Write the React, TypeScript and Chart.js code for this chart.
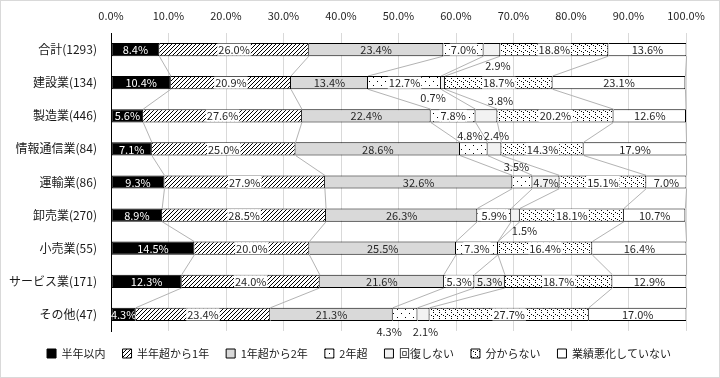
import React, { useEffect, useRef } from 'react';
import { Chart, registerables } from 'chart.js';

Chart.register(...registerables);

const categories = ['合計(1293)', '建設業(134)', '製造業(446)', '情報通信業(84)', '運輸業(86)', '卸売業(270)', '小売業(55)', 'サービス業(171)', 'その他(47)'];
const seriesNames = ['半年以内', '半年超から1年', '1年超から2年', '2年超', '回復しない', '分からない', '業績悪化していない'];
const within6m = [8.4, 10.4, 5.6, 7.1, 9.3, 8.9, 14.5, 12.3, 4.3];
const m6to1y = [26.0, 20.9, 27.6, 25.0, 27.9, 28.5, 20.0, 24.0, 23.4];
const y1to2 = [23.4, 13.4, 22.4, 28.6, 32.6, 26.3, 25.5, 21.6, 21.3];
const over2y = [7.0, 12.7, 7.8, 4.8, 3.5, 5.9, 7.3, 5.3, 4.3];
const noRecovery = [2.9, 0.7, 3.8, 2.4, 4.7, 1.5, 0.0, 5.3, 2.1];
const unknown = [18.8, 18.7, 20.2, 14.3, 15.1, 18.1, 16.4, 18.7, 27.7];
const notWorsened = [13.6, 23.1, 12.6, 17.9, 7.0, 10.7, 16.4, 12.9, 17.0];
const xTickValues = [0, 10, 20, 30, 40, 50, 60, 70, 80, 90, 100];

// label nudges (dataset-index) for small segments whose labels sit outside the bar
const labelNudges: Record<string, [number, number]> = {
  '4-0': [6, 16],
  '4-1': [-10, 15],
  '4-2': [14, -15],
  '3-3': [-4, -14],
  '4-3': [2, -14],
  '3-4': [-6, -16],
  '4-5': [9, 15],
  '3-8': [-16, 17],
  '4-8': [2, 17],
};
const boxedLabelSeries = [1, 3, 5];

const FONT = '"Noto Sans CJK JP", "Noto Sans", sans-serif';

function makePattern(w: number, h: number, draw: (c: CanvasRenderingContext2D) => void) {
  const cv = document.createElement('canvas');
  cv.width = w;
  cv.height = h;
  const c = cv.getContext('2d')!;
  c.fillStyle = '#ffffff';
  c.fillRect(0, 0, w, h);
  c.fillStyle = '#000000';
  draw(c);
  return c.createPattern(cv, 'repeat')!;
}

export default function App() {
  const ref = useRef<HTMLCanvasElement>(null);

  useEffect(() => {
    const canvas = ref.current!;
    const ctx = canvas.getContext('2d')!;

    const hatch = makePattern(4, 4, (c) => {
      for (let k = 0; k < 4; k++) c.fillRect(k, 3 - k, 1, 1);
    });
    const sparseDots = makePattern(8, 8, (c) => {
      c.fillRect(1, 1, 1, 1);
      c.fillRect(5, 5, 1, 1);
    });
    const dots = makePattern(6, 6, (c) => {
      c.fillRect(1, 0, 1, 1);
      c.fillRect(3, 2, 1, 1);
      c.fillRect(1, 4, 1, 1);
      c.fillRect(5, 3, 1, 1);
    });

    const values = [within6m, m6to1y, y1to2, over2y, noRecovery, unknown, notWorsened];
    const fills: any[] = ['#000000', hatch, '#d9d9d9', sparseDots, '#f2f2f2', dots, '#ffffff'];

    const datasets = values.map((data, i) => ({
      label: seriesNames[i],
      data,
      backgroundColor: fills[i],
      borderColor: '#000000',
      borderWidth: 1,
      borderSkipped: i === 0 ? false : 'start',
      categoryPercentage: 1,
      barPercentage: 0.4,
    }));

    const frame = {
      id: 'frame',
      beforeDraw(chart: any) {
        const c = chart.ctx;
        c.save();
        c.fillStyle = '#ffffff';
        c.fillRect(0, 0, chart.width, chart.height);
        c.strokeStyle = '#d9d9d9';
        c.lineWidth = 1;
        c.strokeRect(0.5, 0.5, chart.width - 1, chart.height - 1);
        c.restore();
      },
    };

    const legendShift = {
      id: 'legendShift',
      afterLayout(chart: any) {
        const lg = chart.legend;
        if (lg) {
          lg.left += 16;
          lg.right += 16;
        }
      },
    };

    const seriesLines = {
      id: 'seriesLines',
      beforeDatasetsDraw(chart: any) {
        const c = chart.ctx;
        c.save();
        c.strokeStyle = '#b3b3b3';
        c.lineWidth = 1;
        chart.data.datasets.forEach((_: any, di: number) => {
          const meta = chart.getDatasetMeta(di);
          for (let i = 0; i < meta.data.length - 1; i++) {
            const a = meta.data[i].getProps(['x', 'y', 'height'], true);
            const b = meta.data[i + 1].getProps(['x', 'y', 'height'], true);
            c.beginPath();
            c.moveTo(a.x, a.y + a.height / 2);
            c.lineTo(b.x, b.y - b.height / 2);
            c.stroke();
          }
        });
        c.restore();
      },
    };

    const dataLabels = {
      id: 'dataLabels',
      afterDatasetsDraw(chart: any) {
        const c = chart.ctx;
        c.save();
        c.font = `11px ${FONT}`;
        c.textAlign = 'center';
        c.textBaseline = 'middle';
        chart.data.datasets.forEach((ds: any, di: number) => {
          const meta = chart.getDatasetMeta(di);
          meta.data.forEach((el: any, i: number) => {
            const v = ds.data[i] as number;
            if (!v) return;
            const p = el.getProps(['x', 'y', 'base'], true);
            let cx = (p.x + p.base) / 2;
            let cy = p.y;
            const nudge = labelNudges[`${di}-${i}`];
            if (nudge) {
              cx += nudge[0];
              cy += nudge[1];
            }
            const text = v.toFixed(1) + '%';
            if (!nudge && boxedLabelSeries.includes(di)) {
              const w = c.measureText(text).width + 2;
              c.fillStyle = '#ffffff';
              c.fillRect(cx - w / 2, cy - 6, w, 12);
            }
            c.fillStyle = di === 0 && !nudge ? '#ffffff' : '#262626';
            c.fillText(text, cx, cy + 0.5);
          });
        });
        c.restore();
      },
    };

    const chart = new Chart(ctx, {
      type: 'bar',
      data: { labels: categories, datasets: datasets as any },
      plugins: [frame, legendShift, seriesLines, dataLabels],
      options: {
        indexAxis: 'y',
        responsive: false,
        animation: false,
        layout: { padding: { left: 0, right: 34, top: 0, bottom: 9 } },
        scales: {
          x: {
            position: 'top',
            stacked: true,
            min: 0,
            max: 100,
            afterBuildTicks: (s: any) => {
              s.ticks = xTickValues.map((v) => ({ value: v }));
            },
            afterFit: (s: any) => {
              s.height = 33;
            },
            ticks: {
              padding: 11,
              color: '#262626',
              font: { size: 11, family: FONT },
              callback: (v: any) => Number(v).toFixed(1) + '%',
            },
            grid: { color: '#d9d9d9', drawTicks: false },
            border: { display: false },
          },
          y: {
            stacked: true,
            afterFit: (s: any) => {
              s.width = 111;
            },
            ticks: {
              padding: 14,
              color: '#1a1a1a',
              font: { size: 12, family: FONT },
            },
            grid: { display: false, drawTicks: false },
            border: { display: true, color: '#000000', width: 1 },
          },
        },
        plugins: {
          legend: {
            position: 'bottom',
            labels: {
              boxWidth: 9,
              boxHeight: 9,
              padding: 17,
              color: '#1a1a1a',
              font: { size: 11, family: FONT },
            },
          },
          tooltip: { enabled: false },
        },
      },
    });

    return () => chart.destroy();
  }, []);

  return (
    <div style={{ position: 'fixed', left: 0, top: 0, width: 720, height: 378 }}>
      <canvas ref={ref} width={720} height={378} style={{ width: 720, height: 378, display: 'block' }} />
    </div>
  );
}
